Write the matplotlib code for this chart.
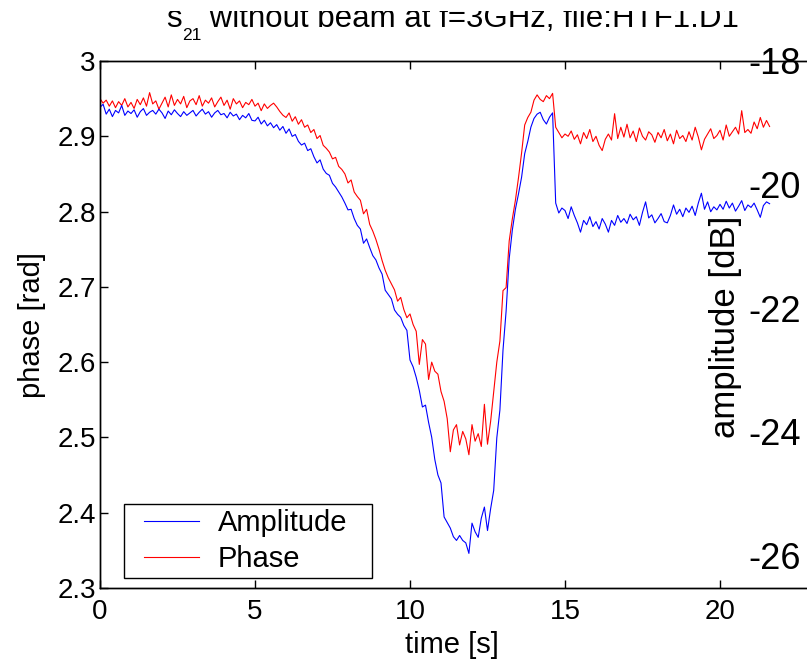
import numpy as np
import matplotlib
matplotlib.use("Agg")
import matplotlib.pyplot as plt
from matplotlib.patches import Rectangle
from matplotlib.lines import Line2D
from matplotlib.legend_handler import HandlerLine2D
from matplotlib.ticker import FormatStrFormatter

plt.rcParams["font.family"] = ["Liberation Sans", "DejaVu Sans"]

# sampling step of the record [s]
dt = 0.1

# phase [rad], one value every 0.1 s from t = 0
phase = [
    2.950, 2.944, 2.948, 2.940, 2.947, 2.938, 2.946, 2.941, 2.950, 2.939,
    2.945, 2.937, 2.949, 2.942, 2.951, 2.940, 2.958, 2.943, 2.947, 2.936,
    2.944, 2.952, 2.939, 2.955, 2.941, 2.949, 2.943, 2.953, 2.938, 2.947,
    2.950, 2.942, 2.954, 2.940, 2.948, 2.944, 2.951, 2.939, 2.946, 2.952,
    2.941, 2.948, 2.936, 2.950, 2.943, 2.947, 2.938, 2.945, 2.942, 2.949,
    2.940, 2.944, 2.934, 2.943, 2.937, 2.941, 2.944, 2.939, 2.933, 2.928,
    2.925, 2.931, 2.920, 2.926, 2.916, 2.922, 2.912, 2.915, 2.905, 2.909,
    2.897, 2.901, 2.888, 2.884, 2.879, 2.870, 2.872, 2.860, 2.856, 2.850,
    2.838, 2.842, 2.826, 2.820, 2.815, 2.797, 2.803, 2.783, 2.774, 2.763,
    2.750, 2.735, 2.722, 2.712, 2.704, 2.696, 2.681, 2.686, 2.670, 2.659,
    2.664, 2.650, 2.641, 2.597, 2.630, 2.624, 2.577, 2.600, 2.588, 2.584,
    2.561, 2.548, 2.525, 2.481, 2.510, 2.517, 2.490, 2.508, 2.498, 2.477,
    2.517, 2.495, 2.505, 2.488, 2.544, 2.491, 2.521, 2.561, 2.600, 2.628,
    2.695, 2.699, 2.761, 2.790, 2.815, 2.845, 2.878, 2.915, 2.925, 2.932,
    2.948, 2.955, 2.949, 2.946, 2.954, 2.950, 2.957, 2.912, 2.905, 2.898,
    2.903, 2.900, 2.907, 2.896, 2.902, 2.890, 2.905, 2.897, 2.909, 2.893,
    2.900, 2.888, 2.881, 2.896, 2.903, 2.895, 2.930, 2.897, 2.912, 2.899,
    2.916, 2.898, 2.907, 2.893, 2.911, 2.900, 2.895, 2.906, 2.902, 2.892,
    2.905, 2.898, 2.909, 2.894, 2.903, 2.890, 2.908, 2.897, 2.901, 2.893,
    2.906, 2.895, 2.912, 2.899, 2.882, 2.896, 2.903, 2.910, 2.897, 2.901,
    2.908, 2.895, 2.915, 2.900, 2.906, 2.912, 2.903, 2.934, 2.905, 2.909,
    2.904, 2.919, 2.910, 2.925, 2.912, 2.921, 2.913,
]

# amplitude [dB], same time base
amplitude = [
    -18.75, -18.70, -18.86, -18.78, -18.90, -18.80, -18.84, -18.72, -18.88, -18.81,
    -18.85, -18.79, -18.91, -18.82, -18.77, -18.88, -18.83, -18.80, -18.86, -18.78,
    -18.84, -18.93, -18.81, -18.87, -18.79, -18.85, -18.90, -18.82, -18.88, -18.84,
    -18.80, -18.89, -18.83, -18.78, -18.86, -18.82, -18.91, -18.84, -18.80, -18.87,
    -18.85, -18.92, -18.83, -18.89, -18.86, -18.95, -18.88, -18.92, -18.85, -18.96,
    -18.97, -18.91, -19.02, -18.96, -19.05, -19.00, -19.08, -19.03, -19.12, -19.06,
    -19.17, -19.10, -19.22, -19.19, -19.30, -19.36, -19.33, -19.45, -19.42, -19.55,
    -19.65, -19.60, -19.75, -19.82, -19.85, -19.98, -20.04, -20.12, -20.20, -20.30,
    -20.41, -20.40, -20.55, -20.66, -20.72, -20.95, -20.88, -21.02, -21.15, -21.22,
    -21.35, -21.45, -21.71, -21.78, -21.85, -22.03, -22.10, -22.15, -22.28, -22.36,
    -22.84, -22.95, -23.12, -23.33, -23.60, -23.57, -23.85, -24.09, -24.45, -24.70,
    -24.83, -25.38, -25.47, -25.56, -25.70, -25.76, -25.68, -25.76, -25.80, -25.97,
    -25.48, -25.62, -25.71, -25.40, -25.22, -25.60, -25.25, -24.95, -24.10, -23.65,
    -22.68, -22.05, -21.20, -20.74, -20.40, -20.15, -19.88, -19.50, -19.30, -19.07,
    -18.93, -18.86, -18.83, -18.95, -19.02, -18.91, -18.84, -20.30, -20.46, -20.38,
    -20.42, -20.55, -20.36, -20.50, -20.62, -20.77, -20.58, -20.65, -20.52, -20.68,
    -20.60, -20.72, -20.55, -20.64, -20.77, -20.58, -20.66, -20.50, -20.61, -20.55,
    -20.63, -20.48, -20.57, -20.52, -20.66, -20.45, -20.28, -20.54, -20.49, -20.62,
    -20.55, -20.47, -20.60, -20.62, -20.50, -20.33, -20.48, -20.40, -20.52, -20.38,
    -20.45, -20.35, -20.50, -20.30, -20.14, -20.40, -20.28, -20.44, -20.36, -20.41,
    -20.32, -20.40, -20.27, -20.38, -20.30, -20.43, -20.35, -20.26, -20.42, -20.33,
    -20.37, -20.30, -20.41, -20.53, -20.34, -20.28, -20.31,
]

time = np.arange(len(phase)) * dt

xticks = [0, 5, 10, 15, 20]
phase_ticks = [2.3, 2.4, 2.5, 2.6, 2.7, 2.8, 2.9, 3.0]
amp_ticks = [-26, -24, -22, -20, -18]

fig = plt.figure(figsize=(8.07, 6.6), dpi=100)
ax = fig.add_axes([100 / 807, 72 / 660, 775 / 807, 527 / 660])
ax2 = ax.twinx()

l_ph, = ax.plot(time, phase, color="red", lw=0.8)
l_amp, = ax2.plot(time, amplitude, color="blue", lw=0.8)

ax.set_xlim(0, 25)
ax.set_ylim(2.3, 3.0)
ax2.set_ylim(-26.53, -18)
ax.set_xticks(xticks)
ax.set_yticks(phase_ticks)
ax2.set_yticks(amp_ticks)
ax.yaxis.set_major_formatter(FormatStrFormatter("%g"))
ax2.yaxis.set_major_formatter(FormatStrFormatter("%g"))

ax.tick_params(axis="both", direction="in", length=6, width=1, labelsize=20, top=True)
ax.tick_params(axis="x", pad=8)
ax.tick_params(axis="y", pad=3)
ax2.tick_params(axis="y", direction="in", length=6, width=1, labelsize=26, pad=-91.4)
for a in (ax, ax2):
    for s in a.spines.values():
        s.set_linewidth(1.0)

ax.set_xlabel("time [s]", fontsize=21)
ax.xaxis.set_label_coords((452 - 100) / 775, -(631 - 588) / 527)
ax.set_ylabel("phase [rad]", fontsize=21)
ax.yaxis.set_label_coords((46 - 100) / 775, 0.5)
ax2.set_ylabel("amplitude [dB]", fontsize=25, va="center")
ax2.yaxis.set_label_coords((725 - 100) / 775, (588 - 327) / 527)

# title: "s" with a small, low "21" subscript, then the rest on the same baseline
t_s = fig.text(166 / 807, 1 - 27 / 660, "s", fontsize=22.5, ha="left", va="baseline")
t_sub = ax.annotate("21", xy=(1, 0), xycoords=t_s, xytext=(0.3, -4.3),
                    textcoords="offset points", fontsize=12.5, ha="left",
                    va="baseline", annotation_clip=False)
ax.annotate(" without beam at f=3GHz, file:HTF1.D1", xy=(1, 0), xycoords=(t_sub, t_s),
            fontsize=22.5, ha="left", va="bottom", annotation_clip=False)

leg = ax2.legend([l_amp, l_ph], ["Amplitude", "Phase"], loc="lower left",
                 bbox_to_anchor=((124 - 100) / 775, (588 - 578) / 527, 248 / 775, 0.14),
                 mode="expand", borderaxespad=0, fontsize=21, fancybox=False,
                 edgecolor="black", framealpha=1, handlelength=2.39, handletextpad=0.65,
                 labelspacing=0.25, borderpad=0.18,
                 handler_map={Line2D: HandlerLine2D(xpad=0.5)})
leg.get_frame().set_linewidth(1.0)

# the top of the title is cut off in the original figure
fig.add_artist(Rectangle((0, 1 - 10.5 / 660), 1, 10.5 / 660, transform=fig.transFigure,
                         facecolor="white", edgecolor="none", zorder=10))

fig.savefig("out.png", dpi=100)
